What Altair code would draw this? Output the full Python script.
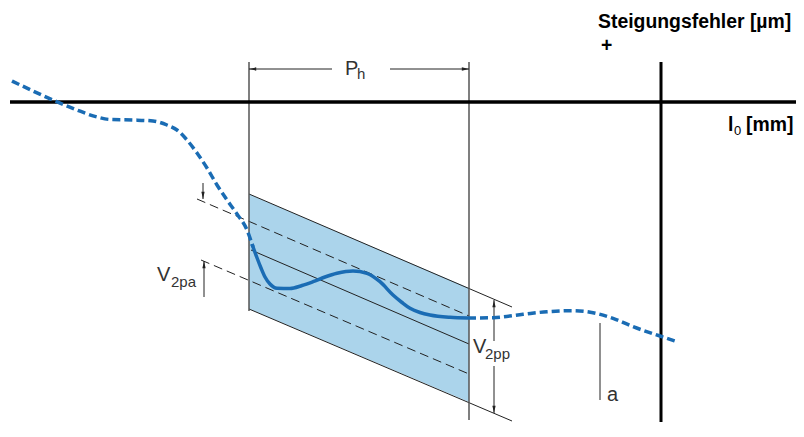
import altair as alt
import pandas as pd

# ---- drawing frame (horizontal: l0 position, vertical: pitch error, downward positive) ----
X_DOMAIN = [8, 796]
Y_DOMAIN = [8, 429]

# ---- pitch-error curve ----
curve_left_x = [12, 33, 55, 77, 97, 110, 133, 153, 167, 177, 187, 197, 207, 217, 227, 237, 247, 253]
curve_left_y = [81, 91, 101, 110, 117, 119.5, 120, 121, 125, 130, 140, 153, 168, 185, 200, 214, 230, 247]
curve_mid_x = [252, 256.7, 261, 265, 270, 277, 290, 302, 313, 325, 337, 353, 367, 380, 393, 402, 410, 420, 430, 450, 468]
curve_mid_y = [244, 257, 268, 277, 284, 288.3, 288.5, 285.5, 281.7, 277, 273.3, 271, 273.3, 281.7, 295, 302.5, 308.3, 312.5, 315, 317.3, 318]
curve_right_x = [468, 493, 523, 547, 573, 593, 613, 633, 660, 675]
curve_right_y = [318, 317.7, 314.3, 311.7, 310.7, 312.7, 318.3, 326.7, 336, 341]

# ---- tolerance band over one pitch length P_h ----
band_x = [249, 469]
band_top = [194, 288]
band_bottom = [309, 402]

# band boundary / mean lines (x, y, x2, y2)
solid_x = [249, 249, 251]
solid_y = [194, 309, 250]
solid_x2 = [512, 512, 469]
solid_y2 = [307, 421, 344]

dashed_x = [197, 201]
dashed_y = [199, 260]
dashed_x2 = [469, 469]
dashed_y2 = [316, 374]

# vertical limit lines of P_h
pitch_x = [249, 469]
pitch_y = [62, 62]
pitch_y2 = [311, 420]

# axes
axis_h = dict(x=[10], y=[102], x2=[800], y2=[102])
axis_v = dict(x=[661], y=[62], x2=[661], y2=[422])

# dimension lines
dim_x = [249, 390, 203, 204, 494, 494, 600]
dim_y = [69, 69, 183, 261, 300, 366, 323]
dim_x2 = [332, 469, 203, 204, 494, 494, 600]
dim_y2 = [69, 69, 199, 297, 341, 413, 400]

# arrow heads
arrow_x = [249, 469, 203, 204, 494, 494]
arrow_y = [69, 69, 199, 261, 300, 413]
arrow_dir = ["left", "right", "down", "up", "up", "down"]

# labels
big_text = ["P", "V", "V", "a"]
big_x = [345, 157, 473, 607]
big_y = [75, 281, 353, 401]
sub_text = ["h", "2pa", "2pp"]
sub_x = [357, 171, 485]
sub_y = [79, 287, 359]
bold_text = ["Steigungsfehler [µm]", "+", "l", "[mm]"]
bold_x = [598, 601, 728, 746]
bold_y = [28, 52, 131, 131]
bold_sub_text = ["0"]
bold_sub_x = [734]
bold_sub_y = [135]

BLUE = "#1a6cb4"
BAND = "#abd4eb"
INK = "#222222"
FONT = "Liberation Sans"

xs = alt.Scale(domain=X_DOMAIN, range=[0, 788], nice=False, zero=False)
ys = alt.Scale(domain=Y_DOMAIN, reverse=True, nice=False, zero=False)


def ex(f="x"):
    return alt.X(f, type="quantitative", scale=xs, axis=None)


def ey(f="y"):
    return alt.Y(f, type="quantitative", scale=ys, axis=None)


def rules(d, **mk):
    df = pd.DataFrame(d)
    return alt.Chart(df).mark_rule(**mk).encode(
        x=ex(), y=ey(), x2=alt.X2("x2"), y2=alt.Y2("y2"))


band = alt.Chart(pd.DataFrame({"x": band_x, "y": band_top, "y2": band_bottom})).mark_area(
    color=BAND, opacity=1).encode(x=ex(), y=ey(), y2=alt.Y2("y2"))

solid = rules(dict(x=solid_x, y=solid_y, x2=solid_x2, y2=solid_y2), color=INK, strokeWidth=1)
dashed = rules(dict(x=dashed_x, y=dashed_y, x2=dashed_x2, y2=dashed_y2), color=INK,
               strokeWidth=1, strokeDash=[9, 5])
pitch = rules(dict(x=pitch_x, y=pitch_y, x2=pitch_x, y2=pitch_y2), color="#555555", strokeWidth=1.5)
ax_h = rules(axis_h, color="#000000", strokeWidth=3.5)
ax_v = rules(axis_v, color="#000000", strokeWidth=3)
dims = rules(dict(x=dim_x, y=dim_y, x2=dim_x2, y2=dim_y2), color=INK, strokeWidth=1)

paths = {
    "down": "M0,0L-0.55,-2.4L0.55,-2.4Z",
    "up": "M0,0L-0.55,2.4L0.55,2.4Z",
    "left": "M0,0L2.4,-0.55L2.4,0.55Z",
    "right": "M0,0L-2.4,-0.55L-2.4,0.55Z",
}
arrows = alt.Chart(pd.DataFrame({"x": arrow_x, "y": arrow_y,
                                 "shape": [paths[d] for d in arrow_dir]})).mark_point(
    filled=True, color=INK, size=36, opacity=1, strokeWidth=0).encode(
    x=ex(), y=ey(), shape=alt.Shape("shape:N", scale=None))

curve_df = pd.concat([
    pd.DataFrame({"x": curve_left_x, "y": curve_left_y, "seg": "left"}),
    pd.DataFrame({"x": curve_right_x, "y": curve_right_y, "seg": "right"}),
])
curve_dashed = alt.Chart(curve_df).mark_line(
    color=BLUE, strokeWidth=3.5, strokeDash=[8, 4], interpolate="monotone").encode(
    x=ex(), y=ey(), detail="seg:N")
curve_solid = alt.Chart(pd.DataFrame({"x": curve_mid_x, "y": curve_mid_y})).mark_line(
    color=BLUE, strokeWidth=3.5, interpolate="monotone").encode(x=ex(), y=ey())


def texts(t, x, y, **mk):
    return alt.Chart(pd.DataFrame({"t": t, "x": x, "y": y})).mark_text(
        align="left", baseline="alphabetic", font=FONT, **mk).encode(
        x=ex(), y=ey(), text="t:N")


t_big = texts(big_text, big_x, big_y, fontSize=20, color="#333333")
t_sub = texts(sub_text, sub_x, sub_y, fontSize=15, color="#333333")
t_bold = texts(bold_text, bold_x, bold_y, fontSize=19.4, fontWeight="bold", color="#000000")
t_bsub = texts(bold_sub_text, bold_sub_x, bold_sub_y, fontSize=13, color="#000000")

chart = alt.layer(
    band, solid, dashed, pitch, ax_h, ax_v, dims, arrows,
    curve_dashed, curve_solid, t_big, t_sub, t_bold, t_bsub
).properties(
    width=788, height=421, padding=0,
    autosize=alt.AutoSizeParams(type="none"),
).configure_view(strokeWidth=0)

chart.save("out.html", embed_options={"renderer": "svg", "actions": False})
